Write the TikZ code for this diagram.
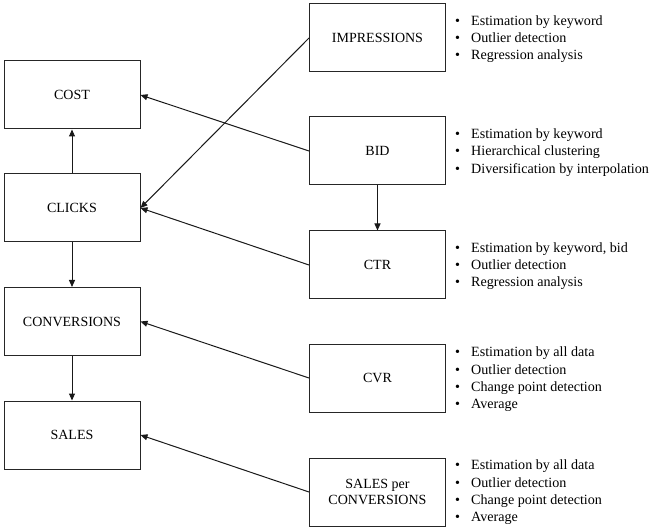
\documentclass[tikz,border=0pt]{standalone}
\usepackage{fontspec}
\setmainfont{Liberation Serif}
\usetikzlibrary{arrows.meta}
\newcommand{\bitem}[1]{\makebox[16pt][l]{\textbullet}#1}
\tikzset{
  box/.style={draw=black!85, line width=1pt, minimum width=136pt, minimum height=68pt, inner sep=2pt, align=center, font=\fontsize{14}{16}\selectfont},
  conn/.style={draw=black!90, line width=1pt, -{Triangle[length=7pt,width=6pt]}},
  blist/.style={anchor=west, inner sep=0pt, align=left, font=\fontsize{14.1}{17.3}\selectfont}
}
\begin{document}
\begin{tikzpicture}[x=1pt,y=-1pt]
\useasboundingbox (0,0) rectangle (657,532);
% left column
\node[box] (cost) at (72,95) {COST};
\node[box] (clicks) at (72,208) {CLICKS};
\node[box] (conv) at (72,321.5) {CONVERSIONS};
\node[box] (sales) at (72,435) {SALES};
% right column
\node[box] (impr) at (377.5,38) {IMPRESSIONS};
\node[box] (bid) at (377.5,151) {BID};
\node[box] (ctr) at (377.5,265) {CTR};
\node[box] (cvr) at (377.5,378) {CVR};
\node[box] (spc) at (377.5,492) {SALES per\\CONVERSIONS};
% lists
\node[blist] (limpr) at (455,39) {\bitem{Estimation by keyword}\\\bitem{Outlier detection}\\\bitem{Regression analysis}};
\node[blist] (lbid) at (455,152.5) {\bitem{Estimation by keyword}\\\bitem{Hierarchical clustering}\\\bitem{Diversification by interpolation}};
\node[blist] (lctr) at (455,266) {\bitem{Estimation by keyword, bid}\\\bitem{Outlier detection}\\\bitem{Regression analysis}};
\node[blist] (lcvr) at (455,379.5) {\bitem{Estimation by all data}\\\bitem{Outlier detection}\\\bitem{Change point detection}\\\bitem{Average}};
\node[blist] (lspc) at (455,492.5) {\bitem{Estimation by all data}\\\bitem{Outlier detection}\\\bitem{Change point detection}\\\bitem{Average}};
% connectors
\draw[conn] (clicks) -- (cost);
\draw[conn] (clicks) -- (conv);
\draw[conn] (conv) -- (sales);
\draw[conn] (bid) -- (ctr);
\draw[conn] (impr.west) -- (clicks.east);
\draw[conn] (bid.west) -- (cost.east);
\draw[conn] (ctr.west) -- (clicks.east);
\draw[conn] (cvr.west) -- (conv.east);
\draw[conn] (spc.west) -- (sales.east);
\end{tikzpicture}
\end{document}
